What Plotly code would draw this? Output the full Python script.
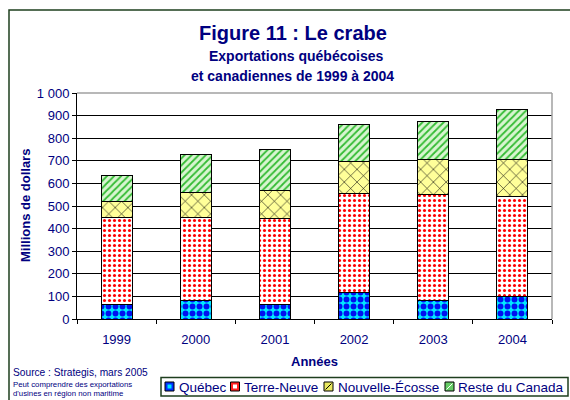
import plotly.graph_objects as go

years = ["1999", "2000", "2001", "2002", "2003", "2004"]
quebec = [65, 80, 66, 118, 84, 99]
terre_neuve = [382, 368, 380, 436, 465, 445]
nouvelle_ecosse = [71, 111, 124, 145, 155, 163]
reste_canada = [119, 170, 181, 162, 168, 221]

series_names = ["Québec", "Terre-Neuve", "Nouvelle-Écosse", "Reste du Canada"]
y_ticks = [0, 100, 200, 300, 400, 500, 600, 700, 800, 900, 1000]

NAVY = "#000080"
FRAME = "#1E3F1E"
FONT = "Arial, Liberation Sans, sans-serif"

styles = [
    dict(shape=".", fgcolor="#0010F0", bgcolor="#00E8FF", size=7, solidity=0.55),
    dict(shape=".", fgcolor="#FF0000", bgcolor="#FFFFFF", size=5, solidity=0.3),
    dict(shape="x", fgcolor="#000000", bgcolor="#FFFF99", size=9, solidity=0.12),
    dict(shape="/", fgcolor="#33BB33", bgcolor="#D8F5D0", size=5, solidity=0.35),
]
base_colors = ["#00E8FF", "#FFFFFF", "#FFFF99", "#D8F5D0"]

fig = go.Figure()
for name, vals, st, bc in zip(series_names,
                              [quebec, terre_neuve, nouvelle_ecosse, reste_canada],
                              styles, base_colors):
    fig.add_trace(go.Bar(
        x=years, y=vals, name=name, showlegend=False,
        marker=dict(color=bc, pattern=dict(fillmode="replace", **st),
                    line=dict(color="#000000", width=1)),
    ))

L, R, T, B = 77, 18, 93, 81
W, H = 570, 400
pw, ph = W - L - R, H - T - B

def px(x):
    return (x - L) / pw

def py(y):
    return (H - B - y) / ph

fig.update_layout(
    width=W, height=H,
    margin=dict(l=L, r=R, t=T, b=B, pad=0),
    barmode="stack", bargap=0.61,
    paper_bgcolor="white", plot_bgcolor="white",
    separators=", ",
    font=dict(family=FONT, color=NAVY, size=13),
    showlegend=False,
    xaxis=dict(
        type="category", tickson="boundaries", ticks="outside", ticklen=4,
        tickcolor="#000000", showline=True, linecolor="#000000", linewidth=1,
        showgrid=False, tickfont=dict(family=FONT, size=13, color=NAVY),
        ticklabelstandoff=8,
    ),
    yaxis=dict(
        range=[0, 1000], tickvals=y_ticks, tickformat=",d",
        ticks="outside", ticklen=4, tickcolor="#000000",
        showline=True, linecolor="#000000", linewidth=1,
        showgrid=True, gridcolor="#000000", gridwidth=1, zeroline=False,
        tickfont=dict(family=FONT, size=13, color=NAVY),
    ),
)

# plot area border (gray top/right)
fig.add_shape(type="line", xref="paper", yref="paper", x0=0, x1=1, y0=1, y1=1,
              line=dict(color="#A0A0A0", width=1.5), layer="above")
fig.add_shape(type="line", xref="paper", yref="paper", x0=1, x1=1, y0=0, y1=1,
              line=dict(color="#A0A0A0", width=1.5), layer="above")

# outer frame
fig.add_shape(type="rect", xref="paper", yref="paper",
              x0=px(9), x1=px(590), y0=py(420), y1=py(10),
              line=dict(color=FRAME, width=1.5), fillcolor="rgba(0,0,0,0)", layer="above")

ann = [
    dict(text="<b>Figure 11 : Le crabe</b>", x=px(293), y=py(33), size=20),
    dict(text="<b>Exportations québécoises</b>", x=px(296), y=py(56), size=14),
    dict(text="<b>et canadiennes de 1999 à 2004</b>", x=px(292), y=py(76), size=14),
    dict(text="<b>Années</b>", x=px(314), y=py(361), size=13),
]
for a in ann:
    fig.add_annotation(text=a["text"], x=a["x"], y=a["y"], xref="paper", yref="paper",
                       xanchor="center", yanchor="middle", showarrow=False,
                       font=dict(family=FONT, size=a["size"], color=NAVY))

fig.add_annotation(text="<b>Millions de dollars</b>", x=px(25), y=py(206),
                   xref="paper", yref="paper", xanchor="center", yanchor="middle",
                   textangle=-90, showarrow=False,
                   font=dict(family=FONT, size=13, color=NAVY))

src = [
    ("Source : Strategis, mars 2005", 372, 10.2),
    ("Peut comprendre des exportations", 384, 7.8),
    ("d'usines en région non maritime", 393, 7.8),
]
for t, yy, s in src:
    fig.add_annotation(text=t, x=px(11), y=py(yy), xref="paper", yref="paper",
                       xanchor="left", yanchor="middle", showarrow=False,
                       font=dict(family=FONT, size=s, color=NAVY))

# legend box drawn as layout decoration
fig.add_shape(type="rect", xref="paper", yref="paper",
              x0=px(161), x1=px(568), y0=py(396), y1=py(377.5),
              line=dict(color=FRAME, width=1.5), fillcolor="white", layer="above")
leg_sq_x = [165, 230.5, 324, 445]
leg_txt_x = [176.5, 241.5, 335.5, 455.5]
sq_fill = ["#0030FF", "#FF2020", "#E8E860", "#66CC66"]
for i, name in enumerate(series_names):
    x0 = leg_sq_x[i]
    fig.add_shape(type="rect", xref="paper", yref="paper",
                  x0=px(x0), x1=px(x0 + 9), y0=py(391), y1=py(382),
                  line=dict(color="#000000", width=1), fillcolor=sq_fill[i], layer="above")
    if i == 0:
        fig.add_shape(type="rect", xref="paper", yref="paper",
                      x0=px(x0 + 2.5), x1=px(x0 + 6.5), y0=py(388.5), y1=py(384.5),
                      line=dict(width=0), fillcolor="#00E8FF", layer="above")
    elif i == 1:
        fig.add_shape(type="rect", xref="paper", yref="paper",
                      x0=px(x0 + 2.5), x1=px(x0 + 6.5), y0=py(388.5), y1=py(384.5),
                      line=dict(width=0), fillcolor="#FFFFFF", layer="above")
    else:
        fig.add_shape(type="line", xref="paper", yref="paper",
                      x0=px(x0 + 1.5), x1=px(x0 + 7.5), y0=py(389.5), y1=py(383.5),
                      line=dict(color="#000000" if i == 2 else "#FFFFFF", width=1),
                      layer="above")
    fig.add_annotation(text=name, x=px(leg_txt_x[i]), y=py(387), xref="paper", yref="paper",
                       xanchor="left", yanchor="middle", showarrow=False,
                       font=dict(family=FONT, size=13.5, color=NAVY))

fig.write_html(
    "out.html",
    config={"displayModeBar": False},
    post_script="document.body.style.margin='0';document.body.style.overflow='hidden';",
)
